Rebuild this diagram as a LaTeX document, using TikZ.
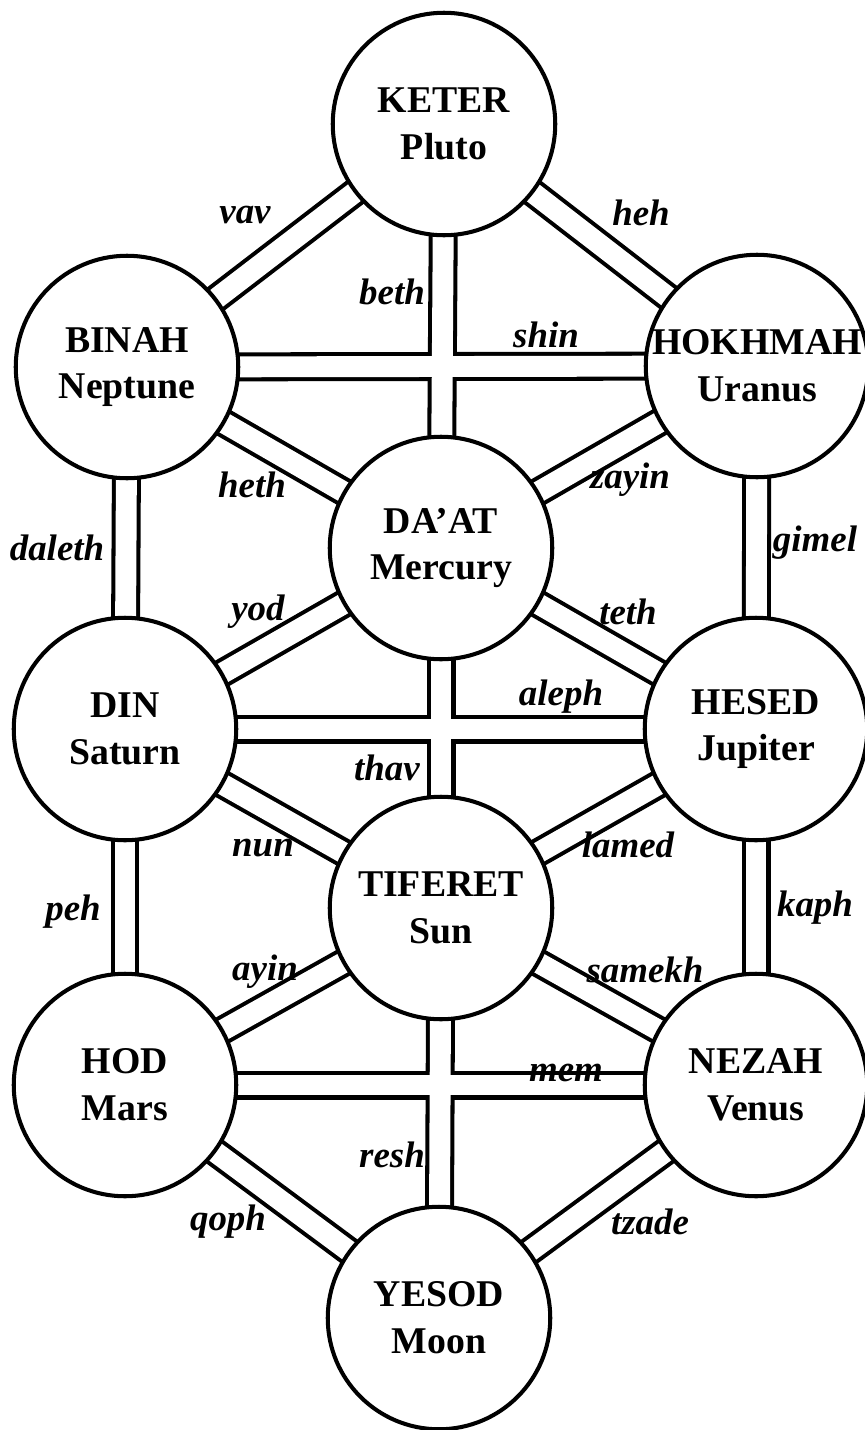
\documentclass[tikz,border=0pt]{standalone}
\usepackage{fontspec}
\setmainfont{Liberation Serif}
\usetikzlibrary{backgrounds}

\newcommand\channellist{keter/binah, keter/hokhmah, keter/daat, binah/hokhmah,
  binah/daat, hokhmah/daat, binah/din, hokhmah/hesed, daat/din, daat/hesed,
  daat/tiferet, din/hesed, din/tiferet, hesed/tiferet, din/hod, hesed/nezah,
  tiferet/hod, tiferet/nezah, tiferet/yesod, hod/nezah, hod/yesod, nezah/yesod}

\begin{document}
\begin{tikzpicture}[
  sefira/.style={circle, draw, line width=2.3pt, fill=white, minimum size=4.45cm,
    inner sep=0pt, align=center, font=\fontsize{21.5}{26.6}\selectfont\bfseries},
  letter/.style={font=\fontsize{21}{24}\selectfont\bfseries\itshape, inner sep=1pt},
  chanout/.style={line width=16.5pt},
  chanin/.style={line width=11.9pt, white}
]
\useasboundingbox (0,0) rectangle (17.28,-28.6);

% the ten circles
\node [sefira] (keter)   at (8.88,-2.48)  {KETER\\Pluto};
\node [sefira] (binah)   at (2.54,-7.34)  {BINAH\\Neptune};
\node [sefira] (hokhmah) at (15.14,-7.32) {\makebox[0pt]{HOKHMAH}\\Uranus};
\node [sefira] (daat)    at (8.82,-10.96) {DA’AT\\Mercury};
\node [sefira] (din)     at (2.50,-14.58) {DIN\\Saturn};
\node [sefira] (hesed)   at (15.12,-14.58) {HESED\\Jupiter};
\node [sefira] (tiferet) at (8.82,-18.16) {TIFERET\\Sun};
\node [sefira] (hod)     at (2.50,-21.70) {HOD\\Mars};
\node [sefira] (nezah)   at (15.12,-21.70) {NEZAH\\Venus};
\node [sefira] (yesod)   at (8.78,-26.36) {YESOD\\Moon};

% channels: black first, then the white inside, so crossings stay open
\begin{pgfonlayer}{background}
  \foreach \a/\b in \channellist
    \draw [chanout] (\a.center) -- (\b.center);
  \foreach \a/\b in \channellist
    \draw [chanin] (\a.center) -- (\b.center);
\end{pgfonlayer}

% letters
\node [letter] (vav)    at (4.90,-4.30)  {vav};
\node [letter] (heh)    at (12.82,-4.26) {heh};
\node [letter] (beth)   at (7.84,-5.84)  {beth};
\node [letter] (shin)   at (10.92,-6.70) {shin};
\node [letter] (heth)   at (5.04,-9.70)  {heth};
\node [letter] (zayin)  at (12.60,-9.60) {zayin};
\node [letter] (daleth) at (1.14,-10.96) {daleth};
\node [letter] (gimel)  at (16.30,-10.86) {gimel};
\node [letter] (yod)    at (5.16,-12.24) {yod};
\node [letter] (teth)   at (12.56,-12.24) {teth};
\node [letter] (aleph)  at (11.22,-13.94) {aleph};
\node [letter] (thav)   at (7.74,-15.36) {thav};
\node [letter] (nun)    at (5.26,-16.96) {nun};
\node [letter] (lamed)  at (12.56,-16.90) {lamed};
\node [letter] (peh)    at (1.46,-18.24) {peh};
\node [letter] (kaph)   at (16.30,-18.16) {kaph};
\node [letter] (ayin)   at (5.30,-19.44) {ayin};
\node [letter] (samekh) at (12.90,-19.40) {samekh};
\node [letter] (mem)    at (11.32,-21.46) {mem};
\node [letter] (resh)   at (7.84,-23.10) {resh};
\node [letter] (qoph)   at (4.56,-24.44) {qoph};
\node [letter] (tzade)  at (13.00,-24.44) {tzade};
\end{tikzpicture}
\end{document}
